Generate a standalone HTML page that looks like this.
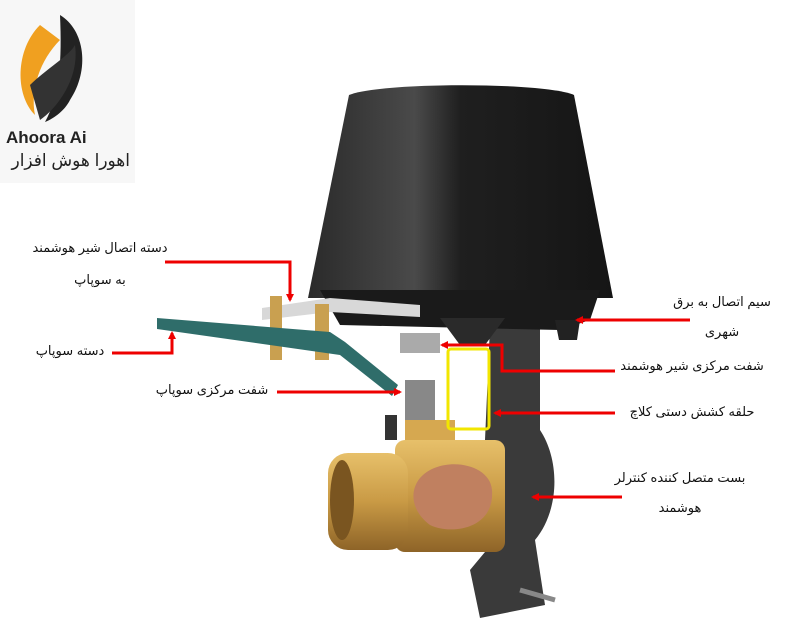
<!DOCTYPE html>
<html><head><meta charset="utf-8"><style>
body{margin:0;background:#fff;width:800px;height:639px;overflow:hidden}
svg{display:block}
text{font-family:"Liberation Sans","DejaVu Sans",sans-serif}
</style></head><body>
<svg width="800" height="639" viewBox="0 0 800 639" xmlns="http://www.w3.org/2000/svg">
<defs>
<linearGradient id="cap" x1="0" x2="1"><stop offset="0" stop-color="#2a2a2a"/><stop offset="0.35" stop-color="#4a4a4a"/><stop offset="0.5" stop-color="#1f1f1f"/><stop offset="1" stop-color="#151515"/></linearGradient>
<linearGradient id="brass" x1="0" x2="0" y1="0" y2="1"><stop offset="0" stop-color="#e7c06a"/><stop offset="0.5" stop-color="#c99a45"/><stop offset="1" stop-color="#8e6428"/></linearGradient>
<marker id="ar" markerWidth="8" markerHeight="8" refX="6" refY="4" orient="auto" markerUnits="userSpaceOnUse"><path d="M0,0 L8,4 L0,8 z" fill="#e00"/></marker>
</defs>
<rect x="0" y="0" width="135" height="183" fill="#f7f7f7"/>
<path d="M40,25 C15,50 15,95 35,115 C30,90 40,60 60,40 Z" fill="#f0a020"/>
<path d="M60,15 C85,30 90,70 70,100 C65,110 55,118 45,122 C60,95 62,60 60,15Z" fill="#222"/>
<path d="M30,85 C45,70 70,55 75,45 C80,80 55,110 40,120 Z" fill="#333"/>
<text x="6" y="143" font-size="17" font-weight="bold" fill="#222">Ahoora Ai</text>
<text x="130" y="166" font-size="17" fill="#222" text-anchor="end" font-family="DejaVu Sans">اهورا هوش افزار</text>
<path d="M490,326 L540,326 L540,430 C560,460 560,510 535,540 L545,605 L480,618 L470,570 L495,540 C505,510 505,470 485,440 Z" fill="#3a3a3a"/>
<path d="M520,590 L555,600" stroke="#888" stroke-width="5"/>
<path d="M349,95 C380,82 545,82 574,95 L613,298 L308,298 Z" fill="url(#cap)"/>
<path d="M320,290 L600,290 L590,320 L560,330 L340,325 Z" fill="#1a1a1a"/>
<path d="M555,320 l25,0 l-3,20 l-18,0z" fill="#222"/>
<path d="M440,318 L505,318 L485,345 L460,345Z" fill="#2a2a2a"/>
<rect x="400" y="333" width="40" height="20" fill="#aaa"/>
<path d="M262,308 L330,298 L420,305 L420,317 L330,312 L262,320Z" fill="#d8d8d8"/>
<rect x="270" y="296" width="12" height="64" fill="#c9a050"/>
<rect x="315" y="304" width="14" height="56" fill="#c9a050"/>
<path d="M157,318 L330,332 L345,342 L398,385 L392,396 L340,355 L157,329Z" fill="#2f6d6a"/>
<rect x="405" y="380" width="30" height="40" fill="#888"/>
<rect x="385" y="415" width="12" height="25" fill="#333"/>
<rect x="405" y="420" width="50" height="22" fill="#d6a850"/>
<rect x="395" y="440" width="110" height="112" rx="10" fill="url(#brass)"/>
<rect x="328" y="453" width="80" height="97" rx="20" fill="url(#brass)"/>
<ellipse cx="342" cy="500" rx="12" ry="40" fill="#7a5520"/>
<path d="M420,478 C440,455 490,462 492,490 C495,530 450,535 430,525 C410,510 410,490 420,478Z" fill="#c08060"/>
<rect x="448" y="349" width="41" height="80" fill="none" stroke="#f2e600" stroke-width="3" rx="3"/>
<g stroke="#e00" stroke-width="3" fill="none">
<path d="M165,262 L290,262 L290,300" marker-end="url(#ar)"/>
<path d="M112,353 L172,353 L172,333" marker-end="url(#ar)"/>
<path d="M277,392 L400,392" marker-end="url(#ar)"/>
<path d="M690,320 L577,320" marker-end="url(#ar)"/>
<path d="M615,371 L502,371 L502,345 L442,345" marker-end="url(#ar)"/>
<path d="M615,413 L495,413" marker-end="url(#ar)"/>
<path d="M622,497 L533,497" marker-end="url(#ar)"/>
</g>
<g font-size="13" fill="#111" text-anchor="middle" font-family="DejaVu Sans">
<text x="100" y="252">دسته اتصال شیر هوشمند</text>
<text x="100" y="284">به سوپاپ</text>
<text x="70" y="355">دسته سوپاپ</text>
<text x="212" y="394">شفت مرکزی سوپاپ</text>
<text x="722" y="306">سیم اتصال به برق</text>
<text x="722" y="336">شهری</text>
<text x="692" y="370">شفت مرکزی شیر هوشمند</text>
<text x="692" y="416">حلقه کشش دستی کلاچ</text>
<text x="680" y="482">بست متصل کننده کنترلر</text>
<text x="680" y="512">هوشمند</text>
</g>
</svg>
</body></html>
